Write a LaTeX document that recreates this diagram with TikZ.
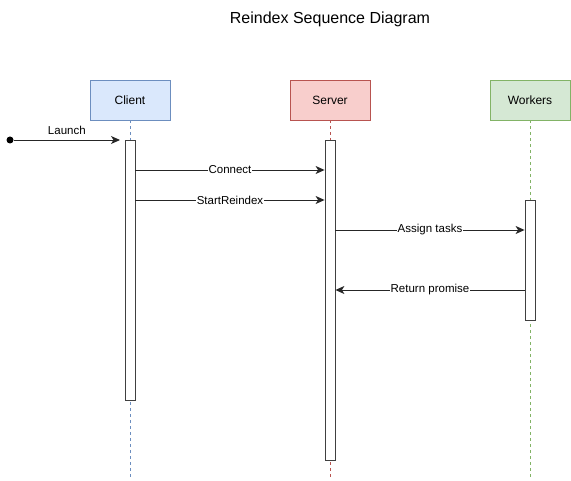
\documentclass[tikz,border=0pt]{standalone}
\usepackage{fontspec}
\setmainfont{Liberation Sans}
\usetikzlibrary{arrows.meta}

\definecolor{clientfill}{HTML}{DAE8FC}
\definecolor{clientline}{HTML}{6C8EBF}
\definecolor{serverfill}{HTML}{F8CECC}
\definecolor{serverline}{HTML}{B85450}
\definecolor{workfill}{HTML}{D5E8D4}
\definecolor{workline}{HTML}{82B366}

\tikzset{
	actor/.style={draw, line width=0.8pt, minimum width=80pt, minimum height=40pt, font=\fontsize{12}{14}\selectfont},
	activation/.style={draw=black!75, fill=white, line width=0.8pt, minimum width=10pt, inner sep=0pt},
	lifeline/.style={line width=0.6pt, dash pattern=on 3pt off 3pt},
	msg/.style={-{Stealth[length=9pt,width=8pt,inset=2.5pt]}, line width=0.9pt, black!85},
	lbl/.style={fill=white, inner sep=0.5pt, text=black, font=\fontsize{11.5}{13}\selectfont}
}

\begin{document}
\begin{tikzpicture}[x=1pt, y=-1pt]
	\useasboundingbox (0,0) rectangle (571,481);
	
	\node (title) at (330,19) {\fontsize{16}{19}\selectfont Reindex Sequence Diagram};
	
	\node (client) [actor, fill=clientfill, draw=clientline] at (130,100) {Client};
	\node (server) [actor, fill=serverfill, draw=serverline] at (330,100) {Server};
	\node (workers) [actor, fill=workfill, draw=workline] at (530,100) {Workers};
	
	\coordinate (cend) at (130,480);
	\coordinate (send) at (330,480);
	\coordinate (wend) at (530,480);
	\draw[lifeline, clientline] (client) -- (cend);
	\draw[lifeline, serverline] (server) -- (send);
	\draw[lifeline, workline] (workers) -- (wend);
	
	\node (cact) [activation, minimum height=260pt] at (130,270) {};
	\node (sact) [activation, minimum height=320pt] at (330,300) {};
	\node (wact) [activation, minimum height=120pt] at (530,260) {};
	
	\node (start) [circle, fill=black, inner sep=0pt, minimum size=7pt] at (10,140) {};
	\coordinate (launchend) at (120,140);
	\coordinate (m1) at (0,170);
	\coordinate (m2) at (0,200);
	\coordinate (m3) at (0,230);
	\coordinate (m4) at (0,290);
	
	\draw[msg] (start) -- (launchend) node[midway, above=4pt, lbl, fill=none] {Launch};
	\draw[msg] (cact.east |- m1) -- (sact.west |- m1) node[midway, lbl] {Connect};
	\draw[msg] (cact.east |- m2) -- (sact.west |- m2) node[midway, lbl] {StartReindex};
	\draw[msg] (sact.east |- m3) -- (wact.west |- m3) node[midway, lbl] {Assign tasks};
	\draw[msg] (wact.west |- m4) -- (sact.east |- m4) node[midway, lbl] {Return promise};
\end{tikzpicture}
\end{document}
